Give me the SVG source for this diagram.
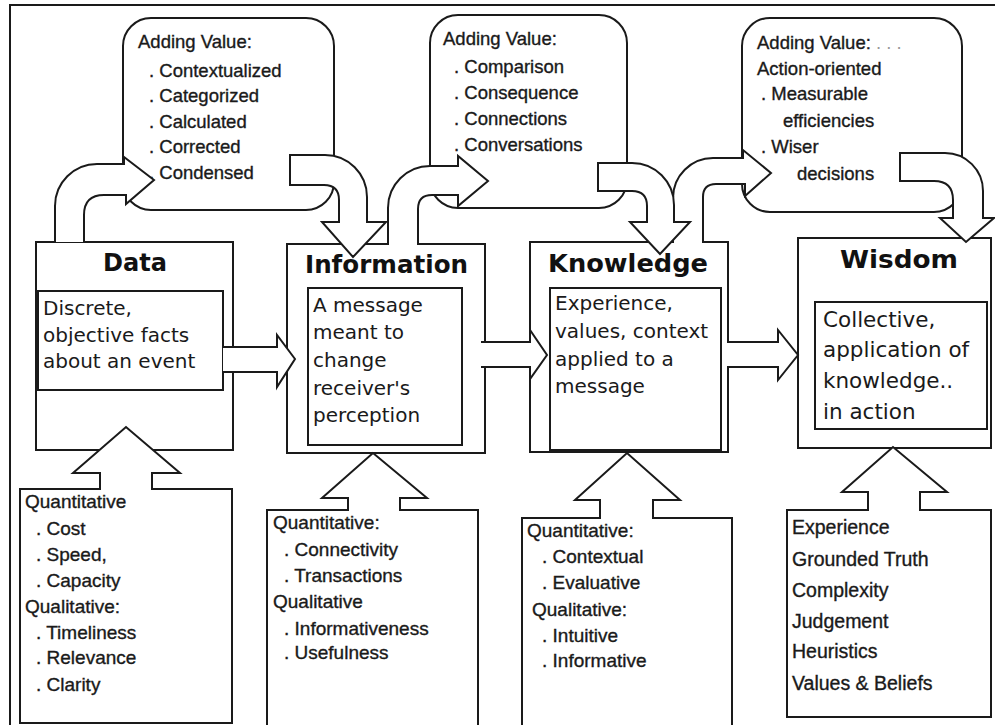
<svg xmlns="http://www.w3.org/2000/svg" width="995" height="725" viewBox="0 0 995 725">
<defs>
<style>
.ln{fill:#fff;stroke:#1a1a1a;stroke-width:2;stroke-linejoin:miter}
.nf{fill:none;stroke:#1a1a1a;stroke-width:2}
.cv{font-family:"Liberation Sans",Arial,sans-serif;font-size:18.5px;fill:#1a1a1a;stroke:#1a1a1a;stroke-width:0.35}
.ls{font-family:"Liberation Sans",Arial,sans-serif;font-size:19px;fill:#1a1a1a;stroke:#1a1a1a;stroke-width:0.35}
.in{font-family:"DejaVu Sans","Liberation Sans",sans-serif;font-size:20px;fill:#1a1a1a}
.tt{font-family:"DejaVu Sans","Liberation Sans",sans-serif;font-size:25px;font-weight:bold;fill:#111}
.fd{fill:#999;stroke:none}
</style>
</defs>
<rect x="0" y="0" width="995" height="725" fill="#fff"/>
<path class="nf" d="M10,725 L10,5 L995,5"/>

<g id="callout-data">
<rect class="ln" x="123" y="18" width="211" height="192" rx="28" ry="28"/>
<text class="cv" x="138" y="48">Adding Value:</text>
<text class="cv" x="149" y="77">. Contextualized</text>
<text class="cv" x="149" y="102">. Categorized</text>
<text class="cv" x="149" y="128">. Calculated</text>
<text class="cv" x="149" y="153">. Corrected</text>
<text class="cv" x="149" y="179">. Condensed</text>
</g>

<g id="callout-information">
<rect class="ln" x="430" y="15" width="197" height="193" rx="28" ry="28"/>
<text class="cv" x="443" y="45">Adding Value:</text>
<text class="cv" x="454" y="73">. Comparison</text>
<text class="cv" x="454" y="99">. Consequence</text>
<text class="cv" x="454" y="125">. Connections</text>
<text class="cv" x="454" y="151">. Conversations</text>
</g>

<g id="callout-knowledge">
<rect class="ln" x="742" y="18" width="220" height="194" rx="28" ry="28"/>
<text class="cv" x="757" y="49">Adding Value:<tspan class="fd"> . . .</tspan></text>
<text class="cv" x="757" y="75">Action-oriented</text>
<text class="cv" x="761" y="100">. Measurable</text>
<text class="cv" x="783" y="127">efficiencies</text>
<text class="cv" x="761" y="153">. Wiser</text>
<text class="cv" x="797" y="180">decisions</text>
</g>

<g id="data">
<rect class="ln" x="36" y="242" width="197" height="208"/>
<rect class="ln" x="38" y="291" width="185" height="99"/>
<text class="tt" x="103" y="271" textLength="64" lengthAdjust="spacingAndGlyphs">Data</text>
<text class="in" x="43" y="315">Discrete,</text>
<text class="in" x="43" y="342">objective facts</text>
<text class="in" x="43" y="368">about an event</text>
</g>

<g id="information">
<rect class="ln" x="287" y="244" width="198" height="209"/>
<rect class="ln" x="308" y="288" width="154" height="157"/>
<text class="tt" x="305" y="273" textLength="163" lengthAdjust="spacingAndGlyphs">Information</text>
<text class="in" x="313" y="312">A message</text>
<text class="in" x="313" y="339">meant to</text>
<text class="in" x="313" y="367">change</text>
<text class="in" x="313" y="395">receiver's</text>
<text class="in" x="313" y="422">perception</text>
</g>

<g id="knowledge">
<rect class="ln" x="530" y="242" width="198" height="210"/>
<rect class="ln" x="550" y="288" width="171" height="162"/>
<text class="tt" x="548" y="272" textLength="160" lengthAdjust="spacingAndGlyphs">Knowledge</text>
<text class="in" x="555" y="310">Experience,</text>
<text class="in" x="555" y="338">values, context</text>
<text class="in" x="555" y="366">applied to a</text>
<text class="in" x="555" y="393">message</text>
</g>

<g id="wisdom">
<rect class="ln" x="798" y="238" width="193" height="210"/>
<rect class="ln" x="815" y="302" width="172" height="127"/>
<text class="tt" x="840" y="268" textLength="118" lengthAdjust="spacingAndGlyphs">Wisdom</text>
<text class="in" x="823" y="327" style="font-size:21.5px">Collective,</text>
<text class="in" x="823" y="357" style="font-size:21.5px">application of</text>
<text class="in" x="823" y="388" style="font-size:21.5px">knowledge..</text>
<text class="in" x="823" y="419" style="font-size:21.5px">in action</text>
</g>

<g id="measures-data">
<path class="ln" d="M100,489 L20,489 L20,723 L232,723 L232,489 L152,489 L152,473 L180,473 L126,427 L73,473 L100,473 Z"/>
<text class="ls" x="25" y="508">Quantitative</text>
<text class="ls" x="36" y="535">. Cost</text>
<text class="ls" x="36" y="561">. Speed,</text>
<text class="ls" x="36" y="587">. Capacity</text>
<text class="ls" x="25" y="613">Qualitative:</text>
<text class="ls" x="36" y="639">. Timeliness</text>
<text class="ls" x="36" y="664">. Relevance</text>
<text class="ls" x="36" y="691">. Clarity</text>
</g>

<g id="measures-information">
<path class="ln" d="M348,510 L267,510 L267,730 L478,730 L478,510 L400,510 L400,498 L427,498 L373,453 L322,498 L348,498 Z"/>
<text class="ls" x="273" y="529">Quantitative:</text>
<text class="ls" x="284" y="556">. Connectivity</text>
<text class="ls" x="284" y="582">. Transactions</text>
<text class="ls" x="273" y="608">Qualitative</text>
<text class="ls" x="284" y="635">. Informativeness</text>
<text class="ls" x="284" y="659">. Usefulness</text>
</g>

<g id="measures-knowledge">
<path class="ln" d="M600,518 L522,518 L522,730 L732,730 L732,518 L653,518 L653,500 L680,500 L627,453 L575,500 L600,500 Z"/>
<text class="ls" x="527" y="537">Quantitative:</text>
<text class="ls" x="542" y="563">. Contextual</text>
<text class="ls" x="542" y="589">. Evaluative</text>
<text class="ls" x="532" y="616">Qualitative:</text>
<text class="ls" x="542" y="642">. Intuitive</text>
<text class="ls" x="542" y="667">. Informative</text>
</g>

<g id="measures-wisdom">
<path class="ln" d="M868,510 L787,510 L787,717 L991,717 L991,510 L920,510 L920,492 L947,492 L893,447 L842,492 L868,492 Z"/>
<text class="ls" x="792" y="534" style="font-size:19.5px">Experience</text>
<text class="ls" x="792" y="566" style="font-size:19.5px">Grounded Truth</text>
<text class="ls" x="792" y="597" style="font-size:19.5px">Complexity</text>
<text class="ls" x="792" y="628" style="font-size:19.5px">Judgement</text>
<text class="ls" x="792" y="658" style="font-size:19.5px">Heuristics</text>
<text class="ls" x="792" y="690" style="font-size:19.5px">Values &amp; Beliefs</text>
</g>

<g id="connectors">
<path class="ln" d="M223,347 L277,347 L277,335 L295,359 L277,387 L277,372 L223,372"/>
<path class="ln" d="M481,342 L530,342 L530,330 L547,355 L530,379 L530,367 L481,367"/>
<path class="ln" d="M727,342 L778,342 L778,330 L798,355 L778,380 L778,367 L727,367"/>
<path class="ln" d="M55,242 L55,206 A42,42 0 0 1 97,164 L124,164 L124,157 L154,180 L126,204 L126,195 L104,195 Q84,195 84,215 L84,242"/>
<path class="ln" d="M388,245 L388,208 A42,42 0 0 1 430,166 L458,166 L458,156 L488,181 L458,206 L458,195 L432,195 Q418,195 418,209 L418,245"/>
<path class="ln" d="M673,243 L673,198 A40,40 0 0 1 713,158 L743,158 L743,150 L771,173 L745,196 L745,184 L716,184 Q703,184 703,197 L703,243"/>
<path class="ln" d="M290,155 L325,155 A42,42 0 0 1 367,197 L367,222 L386,222 L353,257 L322,222 L339,222 L339,200 Q339,185 324,185 L290,185 Z"/>
<path class="ln" d="M598,163 L632,163 A42,42 0 0 1 674,205 L674,222 L690,222 L660,254 L630,222 L647,222 L647,206 Q647,191 632,191 L598,191 Z"/>
<path class="ln" d="M900,153 L945,153 A38,38 0 0 1 983,191 L983,218 L994,218 L966,242 L940,218 L953,218 L953,200 Q953,181 934,181 L900,181 Z"/>
</g>
</svg>
